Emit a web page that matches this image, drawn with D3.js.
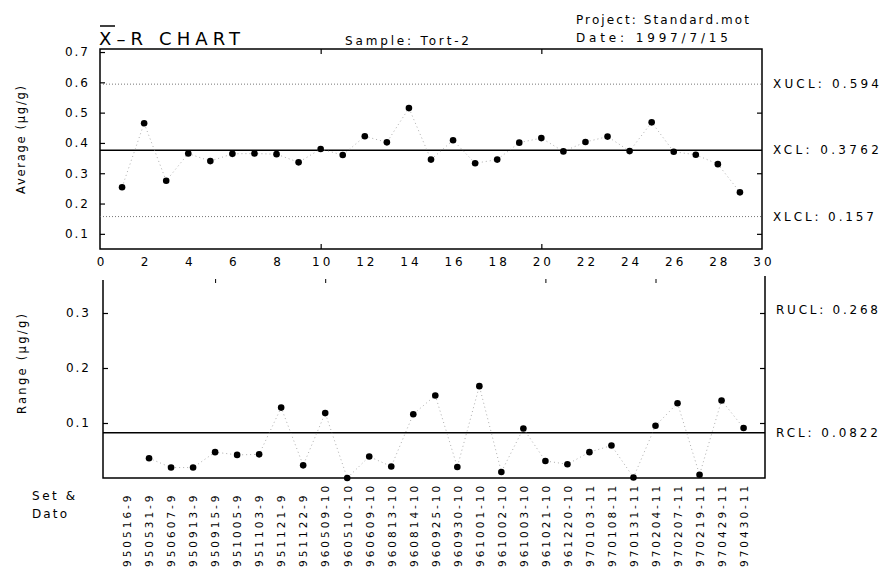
<!DOCTYPE html>
<html><head><meta charset="utf-8">
<script src="https://cdn.jsdelivr.net/npm/d3@7"></script>
<style>
body{margin:0;background:#fff;}
svg{display:block;font-family:"DejaVu Sans",sans-serif;}
</style>
</head><body>
<svg id="c" width="882" height="568"></svg>
<script>
// ---- data ----
const setDates = ["950516-9","950531-9","950607-9","950913-9","950915-9","951005-9","951103-9","951121-9","951122-9",
  "960509-10","960510-10","960609-10","960813-10","960814-10","960925-10","960930-10","961001-10","961002-10",
  "961003-10","961021-10","961220-10","970103-11","970108-11","970131-11","970204-11","970207-11","970219-11",
  "970429-11","970430-11"];
const averages = [0.254,0.465,0.275,0.365,0.340,0.364,0.365,0.363,0.336,0.380,0.360,0.422,0.402,0.515,0.345,
  0.409,0.333,0.345,0.401,0.416,0.372,0.403,0.421,0.373,0.468,0.371,0.361,0.330,0.237];
// moving ranges, plotted from the 2nd sample on
const ranges = [0.036,0.019,0.019,0.047,0.042,0.043,0.128,0.023,0.118,0.000,0.039,0.021,0.116,0.150,
  0.020,0.167,0.011,0.090,0.031,0.025,0.047,0.059,0.001,0.095,0.136,0.006,0.141,0.091];
const xTicks = [0,2,4,6,8,10,12,14,16,18,20,22,24,26,28,30];
const avgTicks = [0.1,0.2,0.3,0.4,0.5,0.6,0.7];
const rangeTicks = [0.1,0.2,0.3];
const xLimitNames = ["XUCL","XCL","XLCL"];
const xLimitValues = [0.594,0.3762,0.157];
const xLimitText = ["0.594","0.3762","0.157"];
const rLimitNames = ["RUCL","RCL"];
const rLimitValues = [0.268,0.0822];
const rLimitText = ["0.268","0.0822"];

// ---- layout ----
const svg = d3.select("#c");
const xTop = d3.scaleLinear().domain([0,30]).range([100,762]);
const yTop = d3.scaleLinear().domain([0.05,0.71]).range([249,49]);
const xBot = d3.scaleLinear().domain([0,30]).range([105,765.6]);
const yBot = d3.scaleLinear().domain([0,0.36]).range([478,280]);
const lblFont = "12px";

function styleAxis(g, ls){
  g.select(".domain").remove();
  g.selectAll("text").attr("font-family","DejaVu Sans, sans-serif").attr("font-size",lblFont)
    .attr("letter-spacing", ls).attr("fill","#000");
  g.selectAll("line").attr("stroke","#000").attr("stroke-width",1.2);
}
function fixedText(x, y, size, len, str){
  return svg.append("text").attr("x",x).attr("y",y).attr("font-size",size)
    .attr("textLength",len).attr("lengthAdjust","spacing").text(str);
}

// ---- header ----
fixedText(99,45,"18px",141,"X–R CHART");
svg.append("line").attr("x1",100).attr("x2",115).attr("y1",26).attr("y2",26).attr("stroke","#000").attr("stroke-width",1.5);
fixedText(345,45,"12px",124,"Sample: Tort-2");
fixedText(576,24,"12px",173,"Project: Standard.mot");
fixedText(576,42,"12px",152,"Date: 1997/7/15");

// ---- top chart (averages) ----
const gTop = svg.append("g");
gTop.append("path").attr("d",`M${xTop(0)},${yTop(0.71)}H${xTop(30)}V${yTop(0.05)}H${xTop(0)}Z`)
  .attr("fill","none").attr("stroke","#000").attr("stroke-width",1.5);
xLimitNames.forEach((n,i)=>{
  const y = yTop(xLimitValues[i]);
  gTop.append("line").attr("x1",xTop(0)).attr("x2",xTop(30)).attr("y1",y).attr("y2",y)
    .attr("stroke", n==="XCL" ? "#000" : "#666")
    .attr("stroke-width", n==="XCL" ? 1.5 : 0.9)
    .attr("stroke-dasharray", n==="XCL" ? null : "1,2");
  fixedText(773, y+4, "12px", n==="XLCL" ? 101 : 106, `${n}: ${xLimitText[i]}`);
});
const ayL = gTop.append("g").attr("transform",`translate(${xTop(0)},0)`)
  .call(d3.axisLeft(yTop).tickValues(avgTicks).tickSize(-5).tickPadding(10).tickFormat(d3.format(".1f")));
styleAxis(ayL,"2px");
const ayR = gTop.append("g").attr("transform",`translate(${xTop(30)},0)`)
  .call(d3.axisRight(yTop).tickValues([0.1,0.3,0.5]).tickSize(-5).tickFormat(""));
styleAxis(ayR,"0");
const axB = gTop.append("g").attr("transform",`translate(0,${yTop(0.05)})`)
  .call(d3.axisBottom(xTop).tickValues(xTicks).tickSize(0).tickPadding(8));
styleAxis(axB,"3px");
axB.selectAll("text").attr("dx","1.5px");
const axBt = gTop.append("g").attr("transform",`translate(0,${yTop(0.05)})`)
  .call(d3.axisBottom(xTop).tickValues([10,20]).tickSize(-5).tickFormat(""));
styleAxis(axBt,"0");
const axT = gTop.append("g").attr("transform",`translate(0,${yTop(0.71)})`)
  .call(d3.axisTop(xTop).tickValues([10,20]).tickSize(-5).tickFormat(""));
styleAxis(axT,"0");
const avgPts = averages.map((v,i)=>[i+1,v]);
gTop.append("path").datum(avgPts)
  .attr("d", d3.line().x(d=>xTop(d[0])).y(d=>yTop(d[1])))
  .attr("fill","none").attr("stroke","#999").attr("stroke-width",0.8).attr("stroke-dasharray","1,3");
gTop.selectAll("circle").data(avgPts).join("circle")
  .attr("cx",d=>xTop(d[0])).attr("cy",d=>yTop(d[1])).attr("r",3.3).attr("fill","#000");
svg.append("text").attr("transform","translate(25,140) rotate(-90)").attr("text-anchor","middle")
  .attr("font-size","11.5px").attr("textLength",108).attr("lengthAdjust","spacing").text("Average (μg/g)");

// ---- bottom chart (ranges) ----
const gBot = svg.append("g");
gBot.append("path").attr("d",`M103,${yBot(0.36)}V${yBot(0)}H765V276`)
  .attr("fill","none").attr("stroke","#000").attr("stroke-width",1.5);
rLimitNames.forEach((n,i)=>{
  const y = yBot(rLimitValues[i]);
  if(n==="RCL"){
    gBot.append("line").attr("x1",103).attr("x2",765).attr("y1",y).attr("y2",y)
      .attr("stroke","#000").attr("stroke-width",1.5);
  }
  const ty = n==="RCL" ? y+4 : y-17;
  fixedText(776, ty, "12px", 102, `${n}: ${rLimitText[i]}`);
});
const byL = gBot.append("g").attr("transform","translate(103,0)")
  .call(d3.axisLeft(yBot).tickValues(rangeTicks).tickSize(-5).tickPadding(12).tickFormat(d3.format(".1f")));
styleAxis(byL,"2px");
const byR = gBot.append("g").attr("transform","translate(765,0)")
  .call(d3.axisRight(yBot).tickValues(rangeTicks).tickSize(-5).tickFormat(""));
styleAxis(byR,"0");
const bxT = gBot.append("g").attr("transform",`translate(0,${yBot(0.36)-1})`)
  .call(d3.axisBottom(xBot).tickValues([5,10,20,25]).tickSize(4).tickFormat(""));
styleAxis(bxT,"0");
bxT.selectAll("line").attr("stroke-width",1);
const rngPts = ranges.map((v,i)=>[i+2,v]);
gBot.append("path").datum(rngPts)
  .attr("d", d3.line().x(d=>xBot(d[0])).y(d=>yBot(d[1])))
  .attr("fill","none").attr("stroke","#999").attr("stroke-width",0.8).attr("stroke-dasharray","1,3");
gBot.selectAll("circle").data(rngPts).join("circle")
  .attr("cx",d=>xBot(d[0])).attr("cy",d=>yBot(d[1])).attr("r",3.3).attr("fill","#000");
svg.append("text").attr("transform","translate(26,364) rotate(-90)").attr("text-anchor","middle")
  .attr("font-size","11.5px").attr("textLength",100).attr("lengthAdjust","spacing").text("Range (μg/g)");

// category labels
const cat = svg.append("g").attr("transform","translate(0,567)")
  .call(d3.axisBottom(xBot).tickValues(d3.range(1,setDates.length+1)).tickSize(0)
    .tickFormat(d=>setDates[d-1]));
cat.select(".domain").remove();
cat.selectAll("text").attr("font-family","DejaVu Sans, sans-serif").attr("font-size","10.5px")
  .attr("letter-spacing","3px").attr("fill","#000")
  .attr("x",0).attr("y",0).attr("dy","0.36em").attr("text-anchor","start").attr("transform","rotate(-90)");
fixedText(32,500,"12px",43,"Set &");
fixedText(32,518,"12px",35,"Dato");
</script>
</body></html>
